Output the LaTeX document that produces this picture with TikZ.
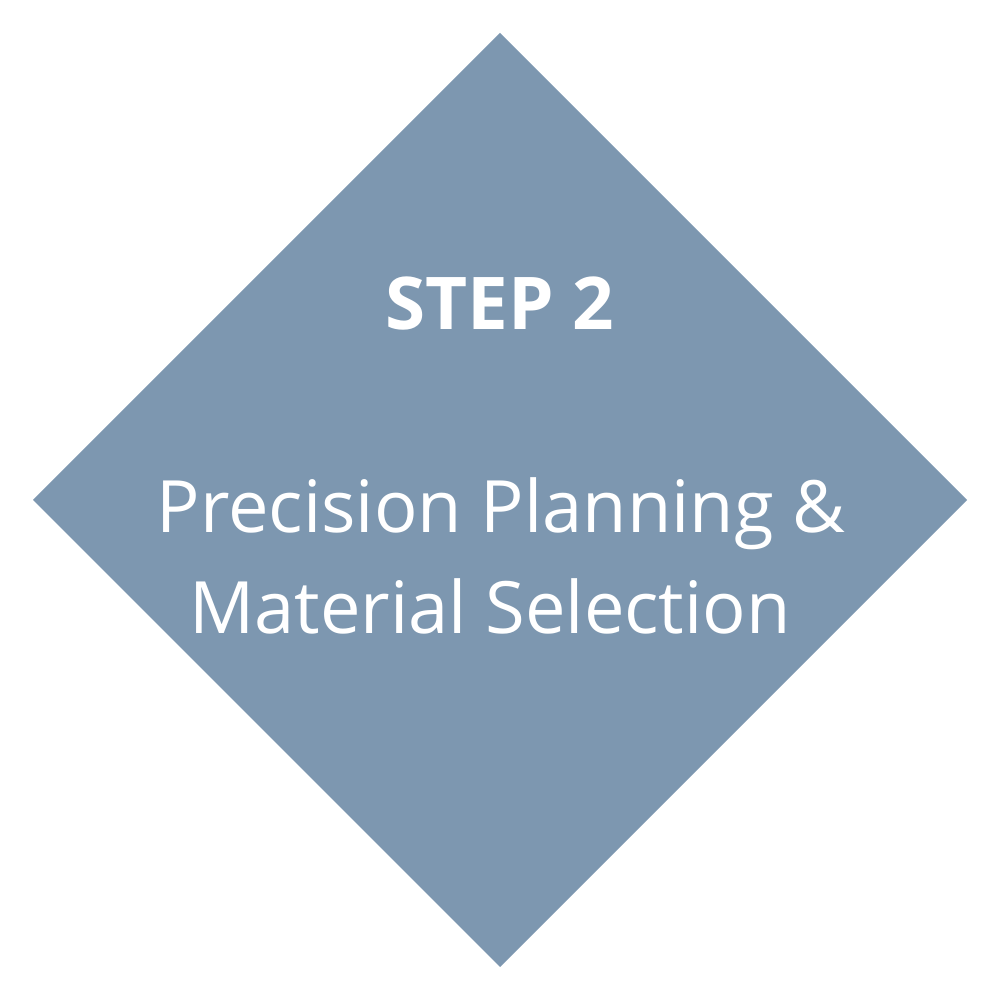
\documentclass[tikz,border=0pt]{standalone}
\usepackage{fontspec}
\setmainfont{Open Sans}
\definecolor{diamondblue}{HTML}{7D97B0}
\tikzset{
  stepfill/.style={fill=diamondblue, draw=none},
  titletext/.style={text=white, font=\fontsize{20.7pt}{24pt}\selectfont\bfseries, anchor=base, inner sep=0pt},
  bodytext/.style={text=white, font=\fontsize{20.55pt}{29pt}\selectfont, anchor=base, inner sep=0pt}
}
\begin{document}
\begin{tikzpicture}
\useasboundingbox (0,0) rectangle (10,10);
\fill[white] (0,0) rectangle (10,10);
\path[stepfill] (5,9.67) -- (9.67,5) -- (5,0.33) -- (0.33,5) -- cycle;
\node[titletext] (title) at (5,6.70) {STEP 2};
\node[bodytext] (line1) at (5.01,4.67) {Precision Planning \&};
\node[bodytext] (line2) at (4.90,3.66) {Material Selection};
\end{tikzpicture}
\end{document}
